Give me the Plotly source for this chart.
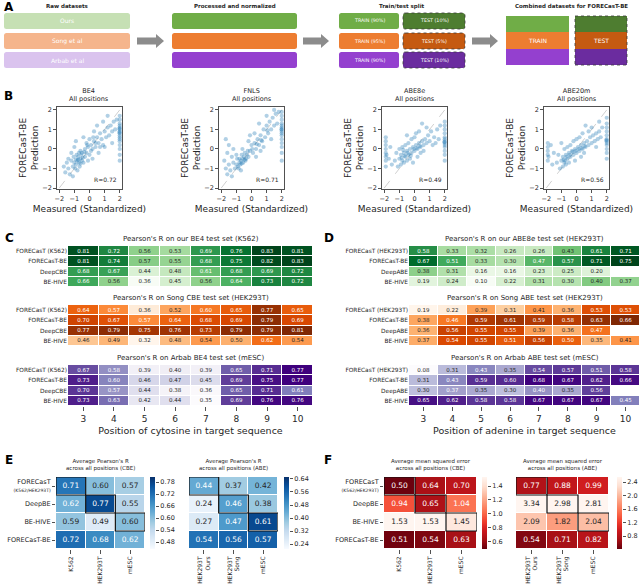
import plotly.graph_objects as go
from plotly.colors import sequential

W, H = 642, 588
FONT = "DejaVu Sans"
TXT = "#262626"

# ---------------- DATA ----------------
RAW_LABELS = ["Ours", "Song et al", "Arbab et al"]
TRAIN_LABELS = ["TRAIN (90%)", "TRAIN (95%)", "TRAIN (90%)"]
TEST_LABELS = ["TEST (10%)", "TEST (5%)", "TEST (10%)"]
STEP_TITLES = ["Raw datasets", "Processed and normalized", "Train/test split",
               "Combined datasets for FORECasT-BE"]

SCATTER_TITLES = ["BE4", "FNLS", "ABE8e", "ABE20m"]
SCATTER_R = ["R=0.72", "R=0.71", "R=0.49", "R=0.56"]

BE4_PTS = [(-0.9,-0.8),(-0.8,-0.6),(-0.7,-0.7),(-0.6,-0.5),(-0.75,-0.4),(-0.85,-0.3),(-0.5,-0.6),(-0.65,-0.9),
           (-1.0,-0.7),(-0.95,-1.0),(-0.55,-0.3),(-0.45,-0.45),(-0.7,-0.2),(-1.1,-0.9),(-0.8,-1.1),(-0.4,-0.7),
           (-0.3,-0.4),(-0.6,-0.1),(-1.2,-0.6),(-1.05,-0.4),(-0.2,-0.2),(-0.1,0.1),(0.0,-0.3),(0.1,0.2),(0.2,0.0),
           (0.3,0.4),(-0.2,0.3),(0.0,0.5),(0.4,0.1),(0.5,0.6),(0.6,0.3),(0.7,0.8),(0.8,0.5),(0.9,0.2),(1.0,0.9),
           (1.1,0.6),(1.2,1.1),(1.3,0.7),(1.4,1.2),(1.5,0.9),(1.6,1.4),(1.7,1.0),(1.8,1.5),(0.3,0.9),(0.5,1.2),
           (0.9,1.4),(1.2,1.7),(-0.4,0.6),(-0.3,0.0),(0.2,-0.5),(0.6,-0.2),(1.0,0.1),(1.5,0.3),(-0.1,-0.6),
           (-1.4,-1.0),(-1.5,-0.7),(-1.3,-1.3),(-1.6,-1.2),(-1.2,-0.2),(-1.4,-0.5),(-1.0,0.1),(-0.9,0.4),
           (-1.7,-0.9),(-1.1,-1.4),(2.0,-0.6),(2.0,-0.3),(2.0,0.0),(2.0,0.2),(2.0,0.4),(2.0,0.5),(2.0,0.6),
           (2.0,0.7),(2.0,0.8),(2.0,0.9),(2.0,1.0),(2.0,1.1),(2.0,1.2),(2.0,1.3),(2.0,1.5),(2.0,1.7),
           (1.98,0.85),(1.98,1.05),(-0.75,-0.55),(-0.6,-0.75),(-0.9,-0.55),(-0.5,-0.2),(-0.35,-0.15),
           (0.1,-0.1),(0.4,0.3),(0.7,0.1),(-0.15,0.2),(0.25,0.6)]
FNLS_PTS = [(-0.9,-0.9),(-0.8,-0.7),(-0.7,-0.6),(-0.6,-0.5),(-0.75,-0.8),(-0.5,-0.4),(-0.65,-0.3),(-0.4,-0.6),
            (-1.0,-0.8),(-0.85,-1.0),(-0.55,-0.7),(-0.3,-0.3),(-0.45,-0.2),(-1.1,-1.0),(-0.95,-0.5),(-0.35,-0.5),
            (-0.7,-1.1),(-0.2,-0.4),(-0.6,0.0),(-1.2,-0.7),(-0.1,-0.1),(0.0,0.2),(0.1,-0.2),(0.2,0.3),(0.3,0.0),
            (0.4,0.5),(0.5,0.2),(0.6,0.7),(0.7,0.4),(0.8,1.0),(0.9,0.6),(1.0,1.2),(1.1,0.8),(1.2,1.4),(1.3,1.0),
            (1.4,1.6),(1.5,1.2),(1.6,1.8),(1.7,1.3),(1.8,1.9),(0.2,0.8),(0.5,1.3),(1.0,1.7),(-0.2,0.4),(0.3,-0.4),
            (0.8,0.1),(1.3,0.5),(-0.1,0.7),(1.5,2.0),(0.6,-0.1),(-1.4,-1.1),(-1.6,-1.3),(-1.5,-0.8),(-1.7,-1.0),
            (-1.3,-0.4),(-1.8,-0.6),(-1.6,-0.2),(-1.5,0.2),(-1.2,0.0),(-1.7,0.5),(-1.3,-1.4),(2.0,-0.6),
            (2.0,-0.2),(2.0,0.1),(2.0,0.3),(2.0,0.5),(2.0,0.7),(2.0,0.8),(2.0,0.9),(2.0,1.0),(2.0,1.1),(2.0,1.2),
            (2.0,1.3),(2.0,1.5),(2.0,1.7),(2.0,1.9),(1.98,1.0),(-0.8,-0.5),(-0.65,-0.75),(-0.45,-0.55),
            (-0.25,-0.1),(0.05,0.0),(0.35,0.25),(-1.0,-0.3),(0.65,0.45),(1.05,0.95)]
ABE8E_PTS = [(-1.0,-0.5),(-0.9,-0.3),(-0.8,-0.6),(-0.7,-0.2),(-0.6,-0.4),(-0.5,-0.1),(-0.4,-0.3),(-0.3,0.0),
             (-0.2,-0.2),(-0.1,0.1),(0.0,-0.1),(0.1,0.2),(0.2,0.0),(0.3,0.3),(0.4,0.1),(0.5,0.4),(0.6,0.2),
             (0.7,0.5),(0.8,0.3),(-0.9,-0.8),(-0.7,-0.7),(-0.5,-0.6),(-0.3,-0.5),(-0.8,0.1),(-0.6,0.2),(-0.4,0.3),
             (-0.2,0.5),(0.0,0.6),(0.2,-0.4),(0.4,-0.2),(0.6,-0.1),(-1.1,-0.9),(-1.0,0.0),(0.9,0.7),(1.0,0.4),
             (1.1,0.9),(1.2,0.2),(1.3,0.6),(1.5,1.0),(1.4,0.3),(0.3,0.9),(0.8,1.1),(-0.1,-0.7),(0.1,0.8),(1.6,0.5),
             (1.7,1.2),(0.5,1.3),(-0.5,0.7),(-1.2,-0.2),(-1.3,-0.6),(-1.9,-0.9),(-1.9,-0.6),(-1.9,-0.4),
             (-1.9,-0.2),(-1.9,0.0),(-1.9,0.2),(-1.9,0.4),(-1.9,0.6),(-1.85,-0.3),(-1.7,-0.5),(-1.6,0.1),
             (-1.5,-0.8),(2.0,-0.6),(2.0,-0.3),(2.0,-0.1),(2.0,0.1),(2.0,0.2),(2.0,0.3),(2.0,0.4),(2.0,0.5),
             (2.0,0.6),(2.0,0.8),(2.0,1.0),(2.0,1.2),(2.0,1.4),(1.98,0.35),(-0.85,-0.45),(-0.65,-0.35),
             (-0.45,-0.2),(-0.25,-0.35),(-0.05,0.0),(0.15,0.05),(0.35,0.15),(-0.75,-0.05)]
ABE20M_PTS = [(-1.0,-0.6),(-0.9,-0.4),(-0.8,-0.7),(-0.7,-0.3),(-0.6,-0.5),(-0.5,-0.2),(-0.4,-0.4),(-0.3,-0.1),
              (-0.2,-0.3),(-0.1,0.0),(0.0,-0.2),(0.1,0.1),(0.2,-0.1),(0.3,0.2),(0.4,0.0),(0.5,0.3),(0.6,0.1),
              (0.7,0.4),(0.8,0.2),(0.9,0.6),(1.0,0.3),(1.1,0.7),(1.2,0.4),(1.3,0.8),(1.4,0.5),(1.5,0.9),(1.6,0.6),
              (1.7,1.1),(-0.9,-0.9),(-0.7,-0.8),(-0.5,-0.7),(-0.8,0.0),(-0.6,0.1),(-0.4,0.2),(-0.2,0.4),(0.0,0.5),
              (0.3,-0.4),(0.5,-0.2),(0.8,0.9),(1.0,1.1),(0.4,0.8),(-1.1,-1.0),(-1.2,-0.3),(-1.3,-0.7),(-0.1,-0.6),
              (1.3,0.1),(0.6,1.2),(1.5,1.4),(-1.0,0.3),(0.2,0.6),(-1.9,-0.6),(-1.9,-0.3),(-1.9,-0.1),(-1.9,0.1),
              (-1.9,0.3),(-1.85,-0.4),(-1.6,-0.8),(-1.5,-0.2),(-1.7,0.2),(2.0,-0.5),(2.0,-0.2),(2.0,0.0),
              (2.0,0.2),(2.0,0.3),(2.0,0.4),(2.0,0.5),(2.0,0.7),(2.0,0.9),(2.0,1.1),(2.0,1.3),(2.0,1.6),(1.98,0.45),
              (-0.85,-0.55),(-0.65,-0.4),(-0.45,-0.3),(-0.25,-0.15),(-0.05,-0.1),(0.15,0.0),(0.35,0.05),
              (-0.75,-0.6),(0.55,0.15)]

POSITIONS = [3, 4, 5, 6, 7, 8, 9, 10]
ROWS_C = ["FORECasT (K562)", "FORECasT-BE", "DeepCBE", "BE-HIVE"]
ROWS_D = ["FORECasT (HEK293T)", "FORECasT-BE", "DeepABE", "BE-HIVE"]
TITLES_C = ["Pearson's R on our BE4 test set (K562)",
            "Pearson's R on Song CBE test set (HEK293T)",
            "Pearson's R on Arbab BE4 test set (mESC)"]
TITLES_D = ["Pearson's R on our ABE8e test set (HEK293T)",
            "Pearson's R on Song ABE test set (HEK293T)",
            "Pearson's R on Arbab ABE test set (mESC)"]

C_BE4 = [[0.81, 0.72, 0.56, 0.53, 0.69, 0.76, 0.83, 0.81],
         [0.81, 0.74, 0.57, 0.55, 0.68, 0.75, 0.82, 0.83],
         [0.68, 0.67, 0.44, 0.48, 0.61, 0.68, 0.69, 0.72],
         [0.66, 0.56, 0.36, 0.45, 0.56, 0.64, 0.73, 0.72]]
C_SONG = [[0.64, 0.57, 0.36, 0.52, 0.60, 0.65, 0.77, 0.65],
          [0.70, 0.67, 0.57, 0.64, 0.68, 0.69, 0.79, 0.69],
          [0.77, 0.79, 0.75, 0.76, 0.73, 0.79, 0.79, 0.81],
          [0.46, 0.49, 0.32, 0.48, 0.54, 0.50, 0.62, 0.54]]
C_ARBAB = [[0.67, 0.58, 0.39, 0.40, 0.39, 0.65, 0.71, 0.77],
           [0.73, 0.60, 0.46, 0.47, 0.45, 0.69, 0.75, 0.77],
           [0.70, 0.57, 0.44, 0.38, 0.36, 0.65, 0.71, 0.61],
           [0.73, 0.63, 0.42, 0.44, 0.35, 0.69, 0.76, 0.76]]
D_ABE8E = [[0.58, 0.33, 0.32, 0.26, 0.26, 0.43, 0.61, 0.71],
           [0.67, 0.51, 0.33, 0.30, 0.47, 0.57, 0.71, 0.75],
           [0.38, 0.31, 0.16, 0.16, 0.23, 0.25, 0.20, None],
           [0.19, 0.24, 0.10, 0.22, 0.31, 0.30, 0.40, 0.37]]
D_SONG = [[0.19, 0.22, 0.39, 0.31, 0.41, 0.36, 0.53, 0.53],
          [0.38, 0.46, 0.59, 0.61, 0.59, 0.58, 0.63, 0.66],
          [0.36, 0.56, 0.55, 0.55, 0.39, 0.36, 0.47, None],
          [0.37, 0.54, 0.55, 0.51, 0.56, 0.50, 0.35, 0.41]]
D_ARBAB = [[0.08, 0.31, 0.43, 0.35, 0.54, 0.57, 0.51, 0.58],
           [0.31, 0.43, 0.59, 0.60, 0.68, 0.67, 0.62, 0.66],
           [0.30, 0.37, 0.35, 0.30, 0.40, 0.35, 0.56, None],
           [0.65, 0.62, 0.58, 0.58, 0.67, 0.67, 0.67, 0.45]]

ROWS_EF = ["FORECasT<br><span style='font-size:4.5px'>(K562/HEK293T)</span>", "DeepBE", "BE-HIVE", "FORECasT-BE"]
COLS_CBE = ["K562", "HEK293T", "mESC"]
COLS_ABE = ["HEK293T<br>Ours", "HEK293T<br>Song", "mESC"]
E_CBE = [[0.71, 0.60, 0.57], [0.62, 0.77, 0.55], [0.59, 0.49, 0.60], [0.72, 0.68, 0.62]]
E_ABE = [[0.44, 0.37, 0.42], [0.24, 0.46, 0.38], [0.27, 0.47, 0.61], [0.54, 0.56, 0.57]]
F_CBE = [[0.50, 0.64, 0.70], [0.94, 0.65, 1.04], [1.53, 1.53, 1.45], [0.51, 0.54, 0.63]]
F_ABE = [[0.77, 0.88, 0.99], [3.34, 2.98, 2.81], [2.09, 1.82, 2.04], [0.54, 0.71, 0.82]]
E_CBE_TICKS = [0.48, 0.54, 0.60, 0.66, 0.72, 0.78]
E_ABE_TICKS = [0.24, 0.32, 0.40, 0.48, 0.56, 0.64]
F_CBE_TICKS = [0.6, 0.8, 1.0, 1.2, 1.4]
F_ABE_TICKS = [0.8, 1.2, 1.6, 2.0, 2.4]

# ---------------- HELPERS ----------------
def X(p): return p / W
def Y(p): return 1 - p / H

def parse_col(c):
    c = c.strip()
    if c.startswith('#'):
        return [int(c[i:i + 2], 16) for i in (1, 3, 5)]
    return [float(v) for v in c[c.index('(') + 1:-1].split(',')][:3]

def make_cs(colors, reverse=False):
    cols = list(reversed(colors)) if reverse else list(colors)
    n = len(cols)
    return [[i / (n - 1), cols[i]] for i in range(n)]

def sample(cs, t):
    t = min(max(t, 0.0), 1.0)
    for i in range(len(cs) - 1):
        p0, c0 = cs[i]
        p1, c1 = cs[i + 1]
        if t <= p1:
            f = (t - p0) / (p1 - p0) if p1 > p0 else 0
            a, b = parse_col(c0), parse_col(c1)
            return [a[k] + (b[k] - a[k]) * f for k in range(3)]
    return parse_col(cs[-1][1])

def text_col(rgb):
    def lin(u):
        u /= 255.0
        return u / 12.92 if u <= 0.03928 else ((u + 0.055) / 1.055) ** 2.4
    L = 0.2126 * lin(rgb[0]) + 0.7152 * lin(rgb[1]) + 0.0722 * lin(rgb[2])
    return TXT if L > 0.408 else "white"

fig = go.Figure()
layout = dict(width=W, height=H, margin=dict(l=0, r=0, t=0, b=0, autoexpand=False),
              paper_bgcolor="white", plot_bgcolor="white", showlegend=False,
              font=dict(family=FONT, color=TXT))
shapes, annotations = [], []

def axname(n):
    return ("x", "y") if n == 1 else ("x%d" % n, "y%d" % n)

def add_axes(n, x0, x1, y0, y1, xa, ya):
    xn, yn = axname(n)
    layout["xaxis" + xn[1:]] = dict(domain=[X(x0), X(x1)], anchor=yn, automargin=False, **xa)
    layout["yaxis" + yn[1:]] = dict(domain=[Y(y1), Y(y0)], anchor=xn, automargin=False, **ya)
    return xn, yn

def ann(x, y, text, size, **kw):
    d = dict(x=X(x), y=Y(y), xref="paper", yref="paper", text=text, showarrow=False,
             xanchor="center", yanchor="middle",
             font=dict(size=size, family=FONT, color=kw.pop("color", TXT)))
    d.update(kw)
    annotations.append(d)

# ---------------- PANEL A ----------------
def rrect(x0, y0, x1, y1, r=2.5):
    return (f"M {X(x0+r)},{Y(y0)} L {X(x1-r)},{Y(y0)} Q {X(x1)},{Y(y0)} {X(x1)},{Y(y0+r)} "
            f"L {X(x1)},{Y(y1-r)} Q {X(x1)},{Y(y1)} {X(x1-r)},{Y(y1)} L {X(x0+r)},{Y(y1)} "
            f"Q {X(x0)},{Y(y1)} {X(x0)},{Y(y1-r)} L {X(x0)},{Y(y0+r)} Q {X(x0)},{Y(y0)} {X(x0+r)},{Y(y0)} Z")

def box(x0, y0, x1, y1, fill, dashed=False):
    line = dict(width=0.8, color="#3a3a3a", dash="dot") if dashed else dict(width=0)
    shapes.append(dict(type="path", xref="paper", yref="paper", path=rrect(x0, y0, x1, y1),
                       fillcolor=fill, line=line, layer="below"))

def arrow(x0, x1, yc):
    p = (f"M {X(x0)},{Y(yc-3.5)} L {X(x1-8)},{Y(yc-3.5)} L {X(x1-8)},{Y(yc-7)} L {X(x1)},{Y(yc)} "
         f"L {X(x1-8)},{Y(yc+7)} L {X(x1-8)},{Y(yc+3.5)} L {X(x0)},{Y(yc+3.5)} Z")
    shapes.append(dict(type="path", xref="paper", yref="paper", path=p,
                       fillcolor="#8c8c8c", line=dict(width=0), layer="below"))

RAW_C = ["#c6e0b4", "#f5b58c", "#dac3ee"]
MID_C = ["#70ad47", "#ed7d31", "#9440cf"]
TEST_C = ["#4e7d30", "#c55a11", "#6b2c9f"]
ROWS_A = [(13, 29), (33, 49), (52, 68)]
for i, (a, b) in enumerate(ROWS_A):
    box(4, a, 130, b, RAW_C[i])
    ann(67, (a + b) / 2, RAW_LABELS[i], 6, color="white")
    box(172, a, 297, b, MID_C[i])
    box(339, a, 399, b, MID_C[i])
    ann(369, (a + b) / 2, TRAIN_LABELS[i], 4.8, color="white")
    box(403, a, 465, b, TEST_C[i], dashed=True)
    ann(434, (a + b) / 2, TEST_LABELS[i], 4.8, color="white")
for x0, x1 in [(137, 164), (303, 329), (472, 498)]:
    arrow(x0, x1, 41)
comb = [(16, 32), (32, 49), (49, 65)]
for i, (a, b) in enumerate(comb):
    shapes.append(dict(type="rect", xref="paper", yref="paper", x0=X(506), x1=X(569),
                       y0=Y(b), y1=Y(a), fillcolor=MID_C[i], line=dict(width=0), layer="below"))
    shapes.append(dict(type="rect", xref="paper", yref="paper", x0=X(575), x1=X(627),
                       y0=Y(b), y1=Y(a), fillcolor=TEST_C[i], line=dict(width=0), layer="below"))
shapes.append(dict(type="rect", xref="paper", yref="paper", x0=X(575), x1=X(627), y0=Y(65), y1=Y(16),
                   line=dict(width=0.8, color="#3a3a3a", dash="dot")))
ann(537, 40.5, "TRAIN", 6, color="white")
ann(601, 40.5, "TEST", 6, color="white")
for t, xc in zip(STEP_TITLES, [67, 235, 402, 571]):
    ann(xc, 6, "<b>" + t + "</b>", 5.5)

# panel letters
for L, (x, y) in zip("ABCDEF", [(2, 7), (2, 96), (3, 238), (322, 238), (3, 460), (322, 460)]):
    ann(x, y, "<b>" + L + "</b>", 12, color="black", xanchor="left")

# ---------------- PANEL B ----------------
SC_W = 65
def sc_axes(n, x0):
    common = dict(ticks="outside", ticklen=3, tickwidth=0.8, tickcolor=TXT, showline=True, mirror=True,
                  linecolor=TXT, linewidth=0.8, showgrid=False, zeroline=False,
                  tickfont=dict(size=6.5, color=TXT, family=FONT),
                  tickvals=[-2, -1, 0, 1, 2], ticktext=["−2", "−1", "0", "1", "2"])
    xa = dict(range=[-2.15, 2.15], title=dict(text="Measured (Standardized)", font=dict(size=9), standoff=4), **common)
    ya = dict(range=[-2.05, 2.15], title=dict(text="FORECasT-BE<br>Prediction", font=dict(size=9), standoff=2), **common)
    return add_axes(n, x0, x0 + SC_W, 107, 189, xa, ya)

for i, pts in enumerate([BE4_PTS, FNLS_PTS, ABE8E_PTS, ABE20M_PTS]):
    x0 = [57, 219, 382, 544][i]
    xn, yn = sc_axes(i + 1, x0)
    fig.add_trace(go.Scatter(x=[-2, 2], y=[-2, 2], mode="lines", xaxis=xn, yaxis=yn,
                             line=dict(color="#b0b0b0", width=0.6, dash="dash"), hoverinfo="skip"))
    fig.add_trace(go.Scatter(x=[p[0] for p in pts], y=[p[1] for p in pts], mode="markers",
                             xaxis=xn, yaxis=yn, hoverinfo="skip",
                             marker=dict(color="#1f77b4", size=4.2, opacity=0.35, line=dict(width=0))))
    ann(x0 + SC_W / 2, 95, SCATTER_TITLES[i] + "<br>All positions", 6.5)
    annotations.append(dict(xref=xn + " domain", yref=yn + " domain", x=0.96, y=0.05, text=SCATTER_R[i],
                            showarrow=False, xanchor="right", yanchor="bottom",
                            font=dict(size=6, family=FONT, color=TXT)))

# ---------------- PANELS C / D ----------------
def heatmap(n, z, xs, cs, zmin, zmax, fsize):
    xn, yn = axname(n)
    fig.add_trace(go.Heatmap(z=z, x=xs, y=list(range(len(z))), colorscale=cs, zmin=zmin, zmax=zmax,
                             xgap=1, ygap=1, showscale=False, xaxis=xn, yaxis=yn, hoverinfo="skip"))
    tx, ty, tt, tc = [], [], [], []
    for r, row in enumerate(z):
        for c, v in enumerate(row):
            if v is None:
                continue
            tx.append(xs[c]); ty.append(r); tt.append("%.2f" % v)
            tc.append(text_col(sample(cs, (v - zmin) / (zmax - zmin))))
    fig.add_trace(go.Scatter(x=tx, y=ty, text=tt, mode="text", xaxis=xn, yaxis=yn, hoverinfo="skip",
                             textfont=dict(size=fsize, color=tc, family=FONT)))

CD_Y = [(246, 287), (305, 346), (365, 406)]
GRN = make_cs(sequential.Greens)
ORG = make_cs(sequential.Oranges)
PUR = make_cs(sequential.Purples)

def cd_block(start_n, x0, x1, data, rows, titles, xlabel):
    for k in range(3):
        n = start_n + k
        y0, y1 = CD_Y[k]
        last = k == 2
        xa = dict(range=[2.5, 10.5], showgrid=False, zeroline=False, showline=False,
                  tickvals=POSITIONS, ticktext=[str(p) for p in POSITIONS],
                  ticks="outside" if last else "", ticklen=4, tickwidth=0.8, tickcolor=TXT,
                  showticklabels=last, tickfont=dict(size=9, color=TXT, family=FONT))
        if last:
            xa["title"] = dict(text=xlabel, font=dict(size=9.5), standoff=4)
        ya = dict(range=[3.5, -0.5], showgrid=False, zeroline=False, showline=False, ticks="",
                  tickvals=[0, 1, 2, 3], ticktext=rows, tickfont=dict(size=5.8, color=TXT, family=FONT))
        add_axes(n, x0, x1, y0, y1, xa, ya)
        z = data[k]
        vals = [v for r in z for v in r if v is not None]
        heatmap(n, z, POSITIONS, [GRN, ORG, PUR][k], min(vals), max(vals), 5.5)
        ann((x0 + x1) / 2, y0 - 1, titles[k], 7, yanchor="bottom")

cd_block(5, 68, 313, [C_BE4, C_SONG, C_ARBAB], ROWS_C, TITLES_C, "Position of cytosine in target sequence")
cd_block(8, 409, 640, [D_ABE8E, D_SONG, D_ARBAB], ROWS_D, TITLES_D, "Position of adenine in target sequence")

# ---------------- PANELS E / F ----------------
BLU = make_cs(sequential.Blues)
RED_R = make_cs(sequential.Reds, reverse=True)
EF = [
    (11, 56, 145, 150, E_CBE, COLS_CBE, BLU, 0.445, 0.805, E_CBE_TICKS, "{:.2f}", True,
     "Average Pearson's R<br>across all positions (CBE)"),
    (12, 189, 278, 284, E_ABE, COLS_ABE, BLU, 0.21, 0.652, E_ABE_TICKS, "{:.2f}", False,
     "Average Pearson's R<br>across all positions (ABE)"),
    (13, 384, 477, 482, F_CBE, COLS_CBE, RED_R, 0.49, 1.53, F_CBE_TICKS, "{:.1f}", True,
     "Average mean squared error<br>across all positions (CBE)"),
    (14, 516, 609, 617, F_ABE, COLS_ABE, RED_R, 0.42, 2.55, F_ABE_TICKS, "{:.1f}", False,
     "Average mean squared error<br>across all positions (ABE)"),
]
for n, x0, x1, cbx, z, cols, cs, zmin, zmax, tvals, fmt, rowlab, title in EF:
    xa = dict(range=[-0.5, 2.5], showgrid=False, zeroline=False, showline=False,
              tickvals=[0, 1, 2], ticktext=cols, ticks="outside", ticklen=4, tickwidth=0.8, tickcolor=TXT,
              tickangle=-90, tickfont=dict(size=6, color=TXT, family=FONT))
    ya = dict(range=[3.5, -0.5], showgrid=False, zeroline=False, showline=False,
              tickvals=[0, 1, 2, 3], ticktext=ROWS_EF, ticks="outside" if rowlab else "", ticklen=3,
              tickwidth=0.8, tickcolor=TXT, showticklabels=rowlab,
              tickfont=dict(size=6.5, color=TXT, family=FONT))
    xn, yn = add_axes(n, x0, x1, 477, 549, xa, ya)
    heatmap(n, z, [0, 1, 2], cs, zmin, zmax, 7.5)
    for d in range(3):
        shapes.append(dict(type="rect", xref=xn, yref=yn, x0=d - 0.5, x1=d + 0.5, y0=d - 0.5, y1=d + 0.5,
                           line=dict(color="#111111", width=1.2), layer="above"))
    ann((x0 + x1) / 2, 474, title, 5.5, yanchor="bottom")
    # colour bar drawn as its own small axis
    cn = n + 4
    steps = [zmin + (zmax - zmin) * (k + 0.5) / 72 for k in range(72)]
    cxa = dict(range=[-0.5, 0.5], visible=False)
    cya = dict(range=[zmin, zmax], side="right", showgrid=False, zeroline=False, showline=False,
               tickvals=tvals, ticktext=[fmt.format(v) for v in tvals], ticks="outside", ticklen=3,
               tickwidth=0.8, tickcolor=TXT, tickfont=dict(size=6.5, color=TXT, family=FONT))
    cxn, cyn = add_axes(cn, cbx, cbx + 5, 477, 549, cxa, cya)
    fig.add_trace(go.Heatmap(z=[[s] for s in steps], x=[0], y=steps, colorscale=cs, zmin=zmin, zmax=zmax,
                             showscale=False, xaxis=cxn, yaxis=cyn, hoverinfo="skip"))

layout["shapes"] = shapes
layout["annotations"] = annotations
fig.update_layout(**layout)
fig.write_html("out.html", config={"displayModeBar": False, "staticPlot": True},
               post_script="document.body.style.margin='0px';document.body.style.overflow='hidden';")
